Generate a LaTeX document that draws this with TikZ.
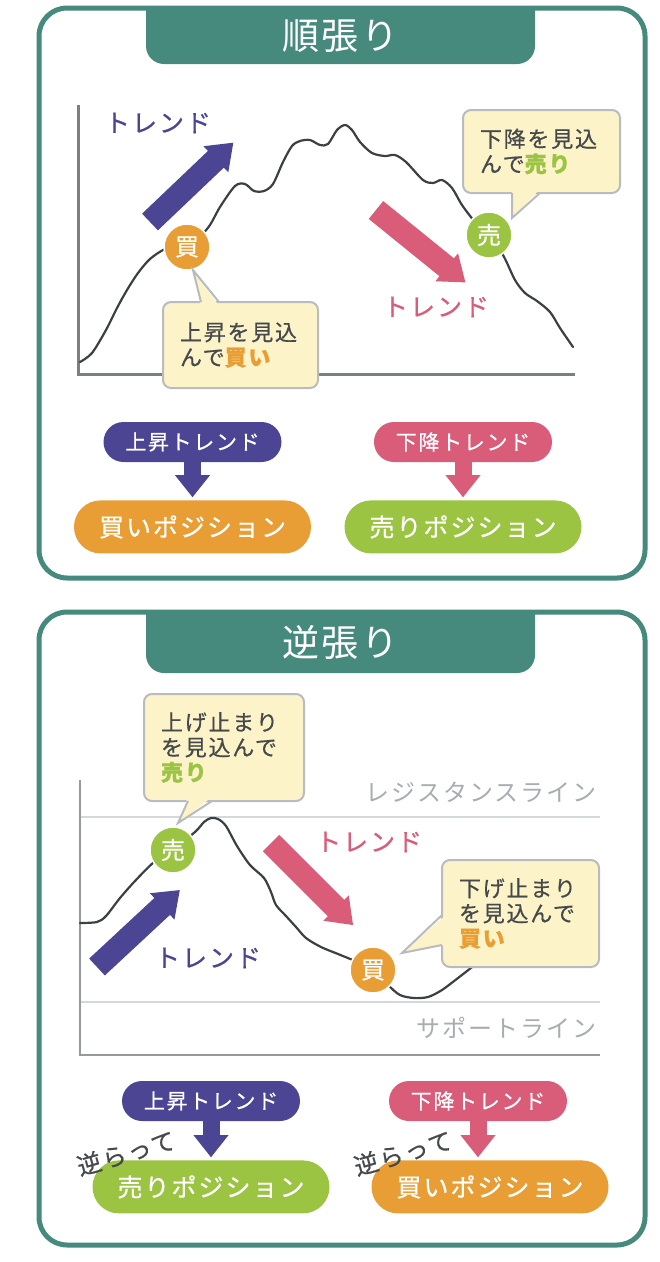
\documentclass[tikz,border=0pt]{standalone}
\usepackage{fontspec}
\setmainfont{Noto Sans CJK JP}[LetterSpace=8]
\newfontfamily\jmedium{Noto Sans CJK JP}[LetterSpace=8, FakeBold=0.6]
\usepackage{xcolor}
\usepackage{tikz}
\usetikzlibrary{positioning,arrows.meta,calc}

\definecolor{frame}{RGB}{70,138,125}
\definecolor{upc}{RGB}{75,69,148}
\definecolor{downc}{RGB}{217,92,121}
\definecolor{buyc}{RGB}{232,158,53}
\definecolor{sellc}{RGB}{155,196,66}
\definecolor{notefill}{RGB}{252,244,200}
\definecolor{noteline}{RGB}{184,188,190}
\definecolor{curve}{RGB}{60,64,68}
\definecolor{axis}{RGB}{122,127,131}
\definecolor{guide}{RGB}{212,216,219}
\definecolor{guidetext}{RGB}{168,173,177}
\definecolor{ink}{RGB}{70,73,76}

\newcommand{\jsize}[1]{\fontsize{#1}{25}\selectfont}
\newcommand{\trendarrow}[4]{%
  \begin{scope}[shift={#2}, rotate=#3]
    \fill[#1] (0,-11.5) -- (#4-24,-11.5) -- (#4-24,-18) -- (#4,0)
      -- (#4-24,18) -- (#4-24,11.5) -- (0,11.5) -- cycle;
  \end{scope}}

\begin{document}
\begin{tikzpicture}[x=1pt, y=-1pt,
  panel/.style={draw=frame, line width=5pt, rounded corners=28pt},
  titletext/.style={text=white, font=\jsize{37}},
  chartaxis/.style={draw=axis, line width=3pt},
  guideline/.style={draw=guide, line width=2pt},
  guidelabel/.style={anchor=east, text=guidetext, font=\jsize{24}},
  price/.style={draw=curve, line width=2.2pt, line join=round, line cap=round},
  trendlabel/.style={font=\jmedium\jsize{25}},
  spot/.style={circle, minimum size=46pt, inner sep=0pt, draw=white,
    line width=1.5pt, text=white, font=\jmedium\jsize{24}},
  note/.style={draw=noteline, fill=notefill, line width=2pt, rounded corners=8pt,
    outer sep=0pt, inner xsep=17pt, inner ysep=0pt, align=left, text=ink,
    font=\jmedium\jsize{22}},
  notetip/.style={draw=noteline, line width=2pt},
  trendpill/.style={rounded corners=20pt, minimum width=178pt, minimum height=40pt,
    inner sep=0pt, text=white, font=\jmedium\jsize{21}},
  pospill/.style={rounded corners=26.5pt, minimum width=237pt, minimum height=53pt,
    inner sep=0pt, text=white, font=\jmedium\jsize{25}},
  flow/.style={line width=17pt, -{Triangle[length=22pt, width=35pt, line width=0pt]},
    shorten >=3pt},
  aside/.style={rotate=16, text=ink, font=\jmedium\jsize{24}},
]
\path[use as bounding box, fill=white] (0,0) rectangle (660,1262);

% 順張り
\draw[panel] (39,8) rectangle (645,578);
\begin{scope}
  \clip (0,8) rectangle (660,120);
  \fill[frame, rounded corners=18pt] (146,-30) rectangle (535,64);
\end{scope}
\node[titletext] (title1) at (340.5,36) {順張り};

\draw[chartaxis] (78,105) -- (78,374) -- (575,374);
\draw[price] plot[smooth, tension=0.5] coordinates {(80,362) (92,353) (106,330)
  (117,308) (127,290) (138,273) (150,259) (165,249) (186,242) (200,236) (210,225)
  (220,207) (235,186) (245,184) (254,191) (264,191) (273,184) (283,162) (292,146)
  (300,141) (310,140) (320,145) (328,144) (337,130) (345,125) (352,130) (360,142)
  (372,153) (385,156) (395,155) (406,162) (423,180) (433,183) (442,180) (452,188)
  (462,205) (475,222) (489,236) (503,255) (515,280) (525,293) (537,301) (550,312)
  (560,328) (573,347)};

\trendarrow{upc}{(150,222)}{43.6}{115}
\trendarrow{downc}{(376,210)}{-39}{115}
\node[trendlabel, text=upc] (rise1) at (158,123) {トレンド};
\node[trendlabel, text=downc] (fall1) at (436,307) {トレンド};

\node[spot, fill=buyc] (buyspot1) at (187,247) {買};
\node[spot, fill=sellc] (sellspot1) at (489,235) {売};

\node[note, text width=121pt, minimum height=86pt] (note1) at (240.5,345)
  {上昇を見込\\んで{\bfseries\color{buyc}買い}};
\coordinate (tip1) at (193,270);
\fill[notefill] ($(note1.north west)+(38,4)$) -- (tip1) -- ($(note1.north west)+(56,4)$) -- cycle;
\draw[notetip] ($(note1.north west)+(38,0)$) -- (tip1) -- ($(note1.north west)+(56,0)$);

\node[note, text width=123pt, minimum height=83pt] (note2) at (541.5,151.5)
  {下降を見込\\んで{\bfseries\color{sellc}売り}};
\coordinate (tip2) at (512,218);
\fill[notefill] ($(note2.south west)+(49,-4)$) -- (tip2) -- ($(note2.south west)+(77,-4)$) -- cycle;
\draw[notetip] ($(note2.south west)+(49,0)$) -- (tip2) -- ($(note2.south west)+(77,0)$);

\node[trendpill, fill=upc] (up1) at (192.5,442) {上昇トレンド};
\node[pospill, fill=buyc, below=38pt of up1] (buy1) {買いポジション};
\node[trendpill, fill=downc] (down1) at (463,442) {下降トレンド};
\node[pospill, fill=sellc, below=38pt of down1] (sell1) {売りポジション};
\draw[flow, upc] (up1) -- (buy1);
\draw[flow, downc] (down1) -- (sell1);

% 逆張り
\draw[panel] (39,612) rectangle (645,1245);
\begin{scope}
  \clip (0,612) rectangle (660,720);
  \fill[frame, rounded corners=18pt] (146,580) rectangle (535,673);
\end{scope}
\node[titletext] (title2) at (340.5,642) {逆張り};

\draw[guideline] (80,817) -- (600,817);
\draw[guideline] (80,1002) -- (600,1002);
\draw[chartaxis, line width=2.2pt, draw=axis!80] (80,780) -- (80,1055) -- (600,1055);
\node[guidelabel] (resist) at (600,792) {レジスタンスライン};
\node[guidelabel] (support) at (600,1028) {サポートライン};

\draw[price] plot[smooth, tension=0.5] coordinates {(80,923) (97,922) (106,916)
  (120,898) (135,881) (154,862) (173,849) (195,832) (204,822) (211,818) (218,819)
  (226,826) (237,846) (250,865) (264,878) (271,892) (276,905) (286,916) (296,927)
  (306,938) (321,947) (338,954) (355,961) (374,970) (388,985) (400,995) (414,998)
  (428,997) (442,990) (458,978) (476,964)};

\trendarrow{upc}{(97,967)}{42.9}{113}
\trendarrow{downc}{(271,843)}{-45}{116}
\node[trendlabel, text=upc] (rise2) at (208,958) {トレンド};
\node[trendlabel, text=downc] (fall2) at (369,842) {トレンド};

\node[spot, fill=sellc] (sellspot2) at (173,850) {売};
\node[spot, fill=buyc] (buyspot2) at (373,970) {買};

\node[note, text width=126pt, minimum height=107pt] (note3) at (224,747.5)
  {上げ止まり\\を見込んで\\{\bfseries\color{sellc}売り}};
\coordinate (tip3) at (178,823);
\fill[notefill] ($(note3.south west)+(44,-4)$) -- (tip3) -- ($(note3.south west)+(68,-4)$) -- cycle;
\draw[notetip] ($(note3.south west)+(44,0)$) -- (tip3) -- ($(note3.south west)+(68,0)$);

\node[note, text width=123pt, minimum height=107pt] (note4) at (520.5,913.5)
  {下げ止まり\\を見込んで\\{\bfseries\color{buyc}買い}};
\coordinate (tip4) at (402,953);
\fill[notefill] ($(note4.north west)+(4,55)$) -- (tip4) -- ($(note4.north west)+(4,85)$) -- cycle;
\draw[notetip] ($(note4.north west)+(0,55)$) -- (tip4) -- ($(note4.north west)+(0,85)$);

\node[trendpill, fill=upc] (up2) at (211,1101) {上昇トレンド};
\node[pospill, fill=sellc, below=39pt of up2] (sell2) {売りポジション};
\node[trendpill, fill=downc] (down2) at (478,1101) {下降トレンド};
\node[pospill, fill=buyc, below=39pt of down2, xshift=12pt] (buy2) {買いポジション};
\draw[flow, upc] (up2) -- (sell2);
\draw[flow, downc] (down2) -- (down2 |- buy2.north);
\node[aside] (against1) at (126,1153) {逆らって};
\node[aside] (against2) at (403,1153) {逆らって};
\end{tikzpicture}
\end{document}
